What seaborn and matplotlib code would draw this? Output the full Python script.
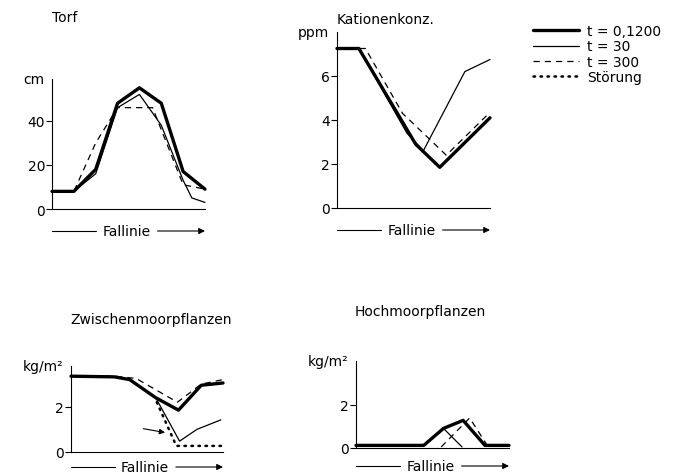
import numpy as np
import pandas as pd
import seaborn as sns
import matplotlib.pyplot as plt
from matplotlib.transforms import ScaledTranslation

# Torf (cm)
torf_thick_x = [0, 1, 2, 3, 4, 5, 6, 7]
torf_thick_y = [8, 8, 18, 48, 55, 48, 17, 9]
torf_thin_x = [0, 1, 2, 3, 4, 5, 6, 6.4, 7]
torf_thin_y = [8, 8, 16, 46, 52, 38, 13, 5, 3]
torf_dash_x = [0, 1, 2, 3, 4.6, 6, 7]
torf_dash_y = [8, 8, 30, 46, 46, 11, 9]

# Kationenkonz. (ppm)
kat_thick_x = [0, 1, 3.6, 4.7, 7]
kat_thick_y = [7.25, 7.25, 2.9, 1.85, 4.1]
kat_thin_x = [0, 1, 3.2, 3.95, 5.85, 7]
kat_thin_y = [7.25, 7.25, 3.4, 2.6, 6.2, 6.75]
kat_dash_x = [0, 1.3, 3.0, 5.0, 7]
kat_dash_y = [7.25, 7.25, 4.3, 2.4, 4.35]

# Zwischenmoorpflanzen (kg/m2)
zw_thick_x = [0, 2, 2.7, 3.9, 4.95, 6, 7]
zw_thick_y = [3.35, 3.32, 3.2, 2.4, 1.85, 2.95, 3.05]
zw_thin_x = [0, 2, 2.7, 3.9, 5.0, 5.8, 6.9]
zw_thin_y = [3.35, 3.32, 3.2, 2.4, 0.48, 1.0, 1.42]
zw_dash_x = [0, 2.0, 3.0, 4.9, 6.0, 7]
zw_dash_y = [3.35, 3.35, 3.25, 2.2, 3.0, 3.2]
zw_dot_x = [3.95, 4.85, 7]
zw_dot_y = [2.2, 0.27, 0.27]

# Hochmoorpflanzen (kg/m2)
ho_thick_x = [0, 3.1, 4.0, 4.9, 5.9, 7]
ho_thick_y = [0.12, 0.12, 0.9, 1.27, 0.12, 0.12]
ho_thin_x = [3.1, 4.0, 4.85]
ho_thin_y = [0.12, 0.9, 0.05]
ho_dash_x = [3.9, 5.2, 6.05]
ho_dash_y = [0.05, 1.38, 0.05]

labels = ['t = 0,1200', 't = 30', 't = 300', 'Störung']

sns.set_style('white')
plt.rcParams['font.family'] = ['DejaVu Sans']
plt.rcParams['font.size'] = 10
for k in ['text.color', 'axes.labelcolor', 'xtick.color', 'ytick.color']:
    plt.rcParams[k] = 'black'

W, H = 681, 477
fig = plt.figure(figsize=(W / 100, H / 100), dpi=100)

styles = {
    'thick': dict(lw=2.4, ls='-'),
    'thin': dict(lw=0.9, ls='-'),
    'dash': dict(lw=0.9, ls=(0, (5, 4))),
    'dot': dict(lw=1.8, ls=(0, (0.6, 2.2)), dash_capstyle='round'),
}


def make_axes(left, right, top, bottom, ymax, yticks, unit, title, tx, ty, fall_off):
    ax = fig.add_axes([left / W, 1 - bottom / H, (right - left) / W, (bottom - top) / H])
    ax.set_xlim(0, 7)
    ax.set_ylim(0, ymax)
    ax.set_xticks([])
    ax.set_yticks(yticks)
    ax.tick_params(axis='y', direction='out', length=4, width=0.8, pad=1,
                   labelsize=10, left=True, colors='black')
    for s in ['top', 'right']:
        ax.spines[s].set_visible(False)
    for s in ['left', 'bottom']:
        ax.spines[s].set_linewidth(0.8)
        ax.spines[s].set_color('black')
    fig.text((left - 8) / W, 1 - top / H, unit, ha='right', va='center', fontsize=10)
    fig.text(tx / W, 1 - ty / H, title, ha='left', va='center', fontsize=10)
    # Fallinie arrow below the axis
    trans = ax.transAxes + ScaledTranslation(0, -fall_off / 100, fig.dpi_scale_trans)
    ax.plot([0, 0.29], [0, 0], color='black', lw=0.8, transform=trans, clip_on=False)
    ax.text(0.485, 0, 'Fallinie', transform=trans, ha='center', va='center', fontsize=10)
    ax.annotate('', xy=(1.0, 0), xytext=(0.69, 0), xycoords=trans, textcoords=trans,
                arrowprops=dict(arrowstyle='-|>', lw=0.8, color='black',
                                mutation_scale=9, shrinkA=0, shrinkB=0))
    return ax


def draw(ax, x, y, kind, label=None):
    st = styles[kind]
    sns.lineplot(x=x, y=y, ax=ax, color='black', linewidth=st['lw'], linestyle=st['ls'],
                 label=label, clip_on=False, sort=False, estimator=None,
                 dash_capstyle=st.get('dash_capstyle', 'butt'))


ax1 = make_axes(52, 205, 80, 210, 59, [0, 20, 40], 'cm', 'Torf', 52, 18, 22)
draw(ax1, torf_thin_x, torf_thin_y, 'thin')
draw(ax1, torf_dash_x, torf_dash_y, 'dash')
draw(ax1, torf_thick_x, torf_thick_y, 'thick')

ax2 = make_axes(337, 490, 33, 209, 8.0, [0, 2, 4, 6], 'ppm', 'Kationenkonz.', 337, 20, 22)
draw(ax2, kat_thin_x, kat_thin_y, 'thin')
draw(ax2, kat_dash_x, kat_dash_y, 'dash')
draw(ax2, kat_thick_x, kat_thick_y, 'thick')

ax3 = make_axes(71, 223, 367, 453, 3.8, [0, 2], 'kg/m²', 'Zwischenmoorpflanzen', 70, 320, 15)
draw(ax3, zw_thick_x, zw_thick_y, 'thick', labels[0])
draw(ax3, zw_thin_x, zw_thin_y, 'thin', labels[1])
draw(ax3, zw_dash_x, zw_dash_y, 'dash', labels[2])
draw(ax3, zw_dot_x, zw_dot_y, 'dot', labels[3])
ax3.annotate('', xy=(4.33, 0.86), xytext=(3.33, 1.03),
             arrowprops=dict(arrowstyle='-|>', lw=0.8, color='black', mutation_scale=8,
                             shrinkA=0, shrinkB=0))
handles, labs = ax3.get_legend_handles_labels()
ax3.get_legend().remove()

ax4 = make_axes(356, 509, 362, 449, 4.0, [0, 2], 'kg/m²', 'Hochmoorpflanzen', 355, 312, 18)
draw(ax4, ho_thin_x, ho_thin_y, 'thin')
draw(ax4, ho_dash_x, ho_dash_y, 'dash')
draw(ax4, ho_thick_x, ho_thick_y, 'thick')

fig.legend(handles, labs, loc='upper left', bbox_to_anchor=(533 / W, 1 - 25 / H),
           frameon=False, handlelength=3.3, handletextpad=0.6, labelspacing=0.1,
           fontsize=10, borderaxespad=0, borderpad=0)

fig.savefig('out.png', dpi=100)
